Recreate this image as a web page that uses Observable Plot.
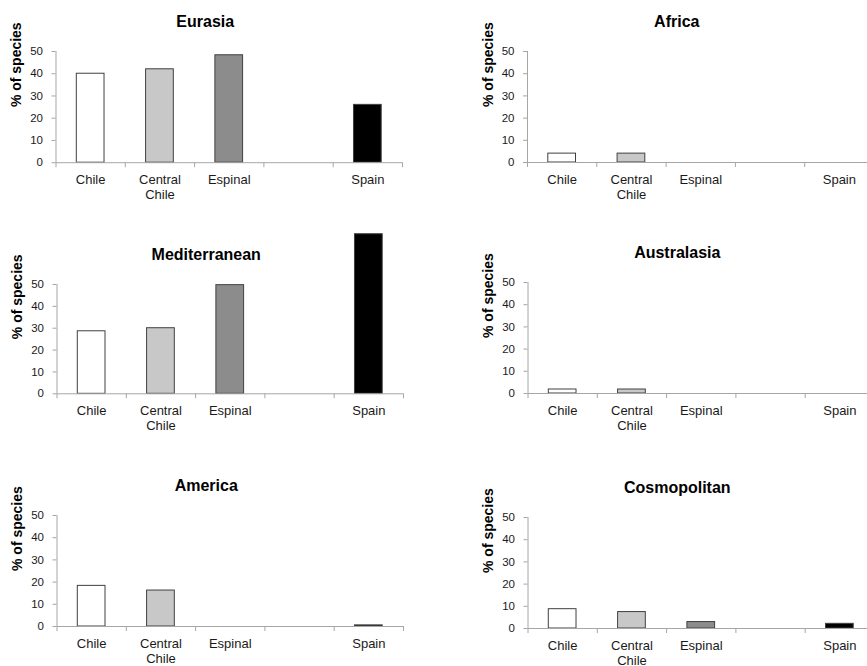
<!DOCTYPE html>
<html>
<head>
<meta charset="utf-8">
<script src="https://cdn.jsdelivr.net/npm/d3@7"></script>
<script src="https://cdn.jsdelivr.net/npm/@observablehq/plot@0.6"></script>
<style>
  html, body { margin: 0; padding: 0; background: white; overflow: hidden; }
  #chart { position: relative; width: 867px; height: 666px; overflow: hidden; background: white; }
  #chart svg { position: absolute; }
</style>
</head>
<body>
<div id="chart"></div>
<script>
// ---- data ----
const categories = ["Chile", "Central\nChile", "Espinal", "", "Spain"];
const yTicks = [0, 10, 20, 30, 40, 50];
const regionNames = ["Eurasia", "Africa", "Mediterranean", "Australasia", "America", "Cosmopolitan"];
const eurasia       = [40.0, 42.0, 48.3, null, 26.0];
const africa        = [4.0, 4.0, 0, null, 0];
const mediterranean = [28.6, 30.0, 49.7, null, 73.0];
const australasia   = [1.8, 1.8, 0, null, 0];
const america       = [18.3, 16.2, 0, null, 0.5];
const cosmopolitan  = [8.7, 7.4, 2.9, null, 2.1];
const regionValues = [eurasia, africa, mediterranean, australasia, america, cosmopolitan];

// ---- style / layout ----
const palette = ["#ffffff", "#c8c8c8", "#8c8c8c", "#ffffff", "#000000"];
const axisGray = "#a6a6a6";
const textColor = "#1a1a1a";
const fontFamily = "'Liberation Sans', Arial, sans-serif";
// frame geometry per panel: [frame left x, y of 50, y of 0]
const geometry = [
  [55.5, 50.5, 161.7], [527, 50.7, 161.7],
  [56.5, 284, 393.3], [527.5, 282.3, 393.3],
  [56.5, 515, 626], [527.5, 516.7, 627.7]
];
const plotW = 346.5;
const mTop = 55, mBottom = 40, mRight = 5;

const container = document.getElementById("chart");

regionNames.forEach((name, k) => {
  const [fx, y50, y0] = geometry[k];
  const data = regionValues[k]
    .map((v, i) => ({i, cat: categories[i], value: v}))
    .filter(d => d.value != null && d.value > 0);
  const step = plotW / categories.length;
  const inset = step * 0.3;
  const width = fx + plotW + mRight;
  const height = mTop + (y0 - y50) + mBottom;

  const svg = Plot.plot({
    width, height,
    marginLeft: fx, marginRight: mRight, marginTop: mTop, marginBottom: mBottom,
    style: {fontFamily, fontSize: "13px", color: textColor, background: "transparent", overflow: "visible"},
    x: {domain: [0, categories.length], axis: null, label: null},
    y: {domain: [0, 50], axis: null, label: null},
    color: {type: "ordinal", domain: categories, range: palette},
    marks: [
      Plot.rectY(data, {
        x1: "i", x2: d => d.i + 1, y1: 0, y2: "value",
        fill: "cat", stroke: "#404040", strokeWidth: 1,
        insetLeft: inset, insetRight: inset
      }),
      Plot.ruleY([0], {stroke: axisGray}),
      Plot.ruleX([0], {stroke: axisGray}),
      Plot.axisY({ticks: yTicks, tickSize: 4, tickPadding: 9, stroke: axisGray, fill: textColor, fontSize: 11.5, label: null}),
      Plot.axisX({ticks: d3.range(categories.length + 1), tickSize: 5, tickFormat: () => "", stroke: axisGray, label: null}),
      Plot.axisX({
        ticks: categories.map((c, i) => i + 0.5), tickSize: 0, tickPadding: 10, label: null,
        tickFormat: v => categories[Math.floor(v)], fontSize: 13, lineHeight: 1.2, fill: textColor
      }),
      Plot.text([name], {text: d => d, frameAnchor: "top", dy: -29.5, dx: -24,
        fontWeight: "bold", fontSize: 16, lineAnchor: "middle", fill: "#000"}),
      Plot.text(["% of species"], {text: d => d, frameAnchor: "left", rotate: -90, dx: -39,
        fontWeight: "bold", fontSize: 14, lineAnchor: "middle", fill: "#000"})
    ]
  });
  svg.style.left = "0px";
  svg.style.top = (y50 - mTop) + "px";
  svg.style.maxWidth = "none";
  container.appendChild(svg);
});
</script>
</body>
</html>
